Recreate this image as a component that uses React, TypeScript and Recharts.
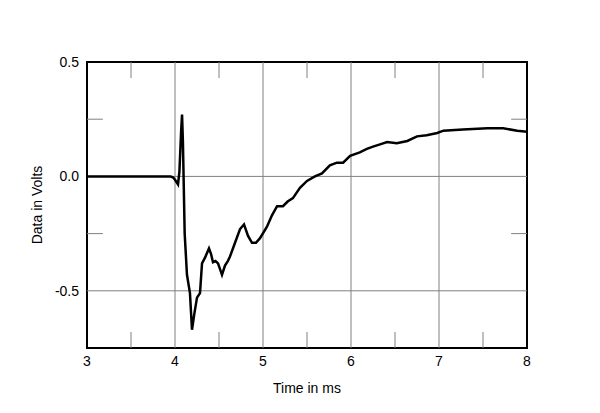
import React from 'react'
import {
  LineChart,
  Line,
  XAxis,
  YAxis,
  ReferenceLine,
  ReferenceArea,
} from 'recharts'

// impulse response, time in ms vs. volts
const TIME_MS = [
  3.0, 3.5, 3.95, 3.98, 4.0, 4.034, 4.05, 4.07, 4.08, 4.09, 4.11, 4.136, 4.17,
  4.193, 4.22, 4.25, 4.284, 4.307, 4.341, 4.386, 4.41, 4.432, 4.46, 4.489,
  4.534, 4.568, 4.6, 4.625, 4.682, 4.739, 4.784, 4.83, 4.875, 4.92, 4.966,
  5.045, 5.102, 5.16, 5.227, 5.28, 5.34, 5.42, 5.5, 5.59, 5.67, 5.76, 5.84,
  5.91, 5.99, 6.1, 6.18, 6.25, 6.33, 6.41, 6.52, 6.64, 6.75, 6.86, 6.98, 7.05,
  7.27, 7.55, 7.73, 7.89, 8.0,
]
const VOLTS = [
  0, 0, 0, -0.005, -0.015, -0.035, 0.02, 0.2, 0.27, 0.15, -0.25, -0.43, -0.51,
  -0.67, -0.6, -0.53, -0.51, -0.38, -0.355, -0.315, -0.34, -0.375, -0.37, -0.38,
  -0.43, -0.39, -0.37, -0.35, -0.29, -0.23, -0.21, -0.26, -0.29, -0.29, -0.27,
  -0.22, -0.17, -0.13, -0.13, -0.11, -0.095, -0.05, -0.02, 0.0, 0.013, 0.048,
  0.06, 0.06, 0.09, 0.105, 0.12, 0.13, 0.14, 0.15, 0.145, 0.155, 0.175, 0.18,
  0.19, 0.2, 0.205, 0.21, 0.21, 0.2, 0.195,
]

const X_TICKS = [3, 4, 5, 6, 7, 8]
const Y_TICKS = [-0.5, 0, 0.5]
const X_GRID = [4, 5, 6, 7]
const Y_GRID = [0, -0.5]
const X_MINOR = [3.5, 4.5, 5.5, 6.5, 7.5]
const Y_MINOR = [0.25, -0.25]

const X_DOMAIN: [number, number] = [3, 8]
const Y_DOMAIN: [number, number] = [-0.75, 0.5]

const FONT = '"Liberation Sans", Arial, sans-serif'
const GRID = '#808080'

const data = TIME_MS.map((t, i) => ({ t, v: VOLTS[i] }))

// short inward tick marks, in data units (~16px)
const MINOR_X_LEN = 0.18
const MINOR_Y_LEN = 0.07

const YLabel = (props: any) => {
  const { viewBox } = props
  const cx = 38
  const cy = viewBox.y + viewBox.height / 2
  return (
    <text
      x={cx}
      y={cy}
      transform={`rotate(-90 ${cx} ${cy})`}
      textAnchor="middle"
      dominantBaseline="middle"
      fontSize={14}
      fontFamily={FONT}
      fill="#000"
    >
      Data in Volts
    </text>
  )
}

export default function App() {
  return (
    <div style={{ position: 'absolute', left: 0, top: 0, background: '#fff', fontFamily: FONT }}>
      <LineChart
        width={600}
        height={413}
        data={data}
        margin={{ top: 62, right: 73, bottom: 0, left: 0 }}
      >
        <XAxis
          dataKey="t"
          type="number"
          domain={X_DOMAIN}
          ticks={X_TICKS}
          allowDataOverflow
          axisLine={false}
          tickLine={false}
          height={65}
          tick={{ fill: '#000', fontSize: 14, fontFamily: FONT }}
          label={{
            value: 'Time in ms',
            position: 'insideBottom',
            offset: 20,
            fill: '#000',
            fontSize: 14,
            fontFamily: FONT,
          }}
        />
        <YAxis
          type="number"
          domain={Y_DOMAIN}
          ticks={Y_TICKS}
          allowDataOverflow
          axisLine={false}
          tickLine={false}
          width={87}
          tick={{ fill: '#000', fontSize: 14, fontFamily: FONT }}
          tickFormatter={(v: number) => v.toFixed(1)}
          label={<YLabel />}
        />

        {X_GRID.map(x => (
          <ReferenceLine key={`gx${x}`} x={x} stroke={GRID} strokeWidth={1} />
        ))}
        {Y_GRID.map(y => (
          <ReferenceLine key={`gy${y}`} y={y} stroke={GRID} strokeWidth={1} />
        ))}

        {X_MINOR.map(x => (
          <ReferenceLine
            key={`mxt${x}`}
            segment={[{ x, y: Y_DOMAIN[1] }, { x, y: Y_DOMAIN[1] - MINOR_Y_LEN }]}
            stroke={GRID}
          />
        ))}
        {X_MINOR.map(x => (
          <ReferenceLine
            key={`mxb${x}`}
            segment={[{ x, y: Y_DOMAIN[0] }, { x, y: Y_DOMAIN[0] + MINOR_Y_LEN }]}
            stroke={GRID}
          />
        ))}
        {Y_MINOR.map(y => (
          <ReferenceLine
            key={`myl${y}`}
            segment={[{ x: X_DOMAIN[0], y }, { x: X_DOMAIN[0] + MINOR_X_LEN, y }]}
            stroke={GRID}
          />
        ))}
        {Y_MINOR.map(y => (
          <ReferenceLine
            key={`myr${y}`}
            segment={[{ x: X_DOMAIN[1], y }, { x: X_DOMAIN[1] - MINOR_X_LEN, y }]}
            stroke={GRID}
          />
        ))}

        <Line
          type="linear"
          dataKey="v"
          stroke="#000"
          strokeWidth={2.5}
          dot={false}
          activeDot={false}
          isAnimationActive={false}
        />

        <ReferenceArea
          x1={X_DOMAIN[0]}
          x2={X_DOMAIN[1]}
          y1={Y_DOMAIN[0]}
          y2={Y_DOMAIN[1]}
          fill="none"
          stroke="#000"
          strokeWidth={2}
        />
      </LineChart>
    </div>
  )
}
